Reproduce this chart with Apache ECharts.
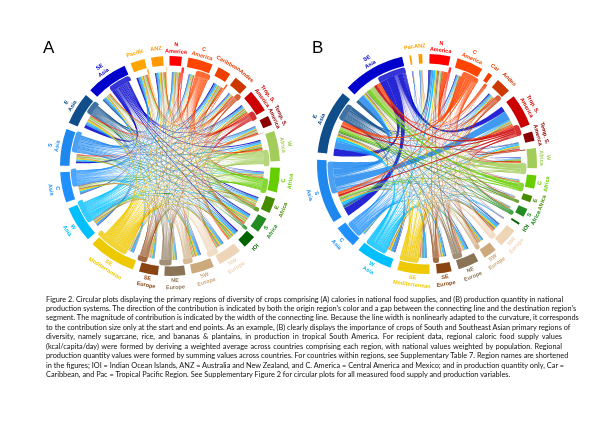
<!DOCTYPE html>
<html>
<head>
<meta charset="utf-8">
<title>Figure 2</title>
<script src="https://cdn.jsdelivr.net/npm/echarts@6/dist/echarts.min.js"></script>
<style>
  html, body { margin: 0; padding: 0; background: #fff; }
  #chart { position: absolute; left: 0; top: 0; width: 596px; height: 432px; }
  #caption { position: absolute; left: 46px; top: 294.5px; width: 516px; font: 7.35px/9.43px Lato, sans-serif; color: #111; }
  #caption div { white-space: nowrap; text-align: justify; text-align-last: justify; }
  #caption div:last-child { text-align-last: left; }
</style>
</head>
<body>
<div id="chart"></div>
<div id="caption"></div>
<script>
const regionColors = ['#FFA500', '#FF9A00', '#FF0000', '#FF4500', '#EE4000', '#CD3700', '#CC0000', '#8B0000',
  '#A2CD5A', '#66CD00', '#458B00', '#228B22', '#006400', '#EED5B7', '#CDAA7D', '#8B7355', '#8B4513', '#EEC900',
  '#00BFFF', '#1E90FF', '#1E88EE', '#104E8B', '#0000CD'];

const labelsA = ['Pacific', 'ANZ', 'N\nAmerica', 'C\nAmerica', 'Caribbean', 'Andes', 'Trop. S.\nAmerica', 'Temp. S.\nAmerica',
  'W\nAfrica', 'C\nAfrica', 'E\nAfrica', 'S\nAfrica', 'IOI', 'NW\nEurope', 'SW\nEurope', 'NE\nEurope', 'SE\nEurope',
  'SE\nMediterranean', 'W\nAsia', 'C\nAsia', 'S\nAsia', 'E\nAsia', 'SE\nAsia'];
const labelsB = ['Pac', 'ANZ', 'N\nAmerica', 'C\nAmerica', 'Car', 'Andes', 'Trop. S.\nAmerica', 'Temp. S.\nAmerica',
  'W\nAfrica', 'C\nAfrica', 'E\nAfrica', 'S\nAfrica', 'IOI', 'NW\nEurope', 'SW\nEurope', 'NE\nEurope', 'SE\nEurope',
  'SE\nMediterranean', 'W\nAsia', 'C\nAsia', 'S\nAsia', 'E\nAsia', 'SE\nAsia'];

// arc for each region, tenths of a degree
const inA = [66, 60, 50, 40, 60, 40, 65, 50, 60, 40, 55, 60, 70, 55, 60, 35, 40, 40, 45, 50, 65, 85, 80];
const outA = [10, 3, 15, 91, 10, 35, 55, 0, 100, 90, 25, 20, 0, 70, 60, 75, 60, 210, 145, 110, 130, 85, 140];
const inB = [10, 20, 95, 30, 2, 45, 100, 45, 36, 15, 15, 15, 10, 60, 40, 50, 40, 50, 50, 15, 140, 230, 150];
const outB = [0, 0, 15, 110, 22, 35, 70, 5, 70, 55, 20, 30, 0, 43, 30, 60, 38, 120, 140, 105, 200, 110, 180];

// origin row -> destination column, same region order as the labels
const flowsA = [
  [0, 1, 0, 0, 1, 0, 1, 0, 1, 0, 0, 1, 1, 0, 0, 0, 0, 0, 0, 0, 0, 1, 1],
  [1, 0, 0, 0, 0, 0, 0, 0, 0, 0, 0, 0, 1, 0, 0, 0, 0, 0, 0, 0, 0, 0, 1],
  [1, 1, 0, 1, 1, 1, 1, 1, 1, 0, 0, 1, 0, 1, 0, 0, 0, 0, 0, 0, 1, 1, 1],
  [5, 5, 6, 0, 7, 4, 6, 4, 6, 3, 4, 5, 5, 2, 3, 1, 2, 2, 2, 2, 3, 4, 4],
  [1, 0, 1, 1, 0, 1, 1, 0, 1, 0, 0, 1, 1, 0, 0, 0, 0, 0, 0, 0, 0, 1, 0],
  [2, 2, 3, 2, 3, 0, 4, 3, 2, 1, 1, 1, 1, 1, 0, 0, 0, 0, 0, 1, 1, 1, 1],
  [3, 2, 3, 3, 4, 3, 0, 4, 4, 2, 2, 3, 3, 1, 1, 1, 1, 0, 1, 1, 2, 2, 2],
  [0, 0, 0, 0, 0, 0, 1, 0, 0, 0, 0, 0, 0, 0, 0, 0, 0, 0, 0, 0, 0, 0, 0],
  [4, 3, 4, 3, 4, 2, 5, 3, 0, 7, 6, 7, 5, 3, 3, 2, 2, 3, 3, 3, 4, 6, 5],
  [4, 4, 3, 3, 4, 3, 5, 3, 7, 0, 5, 7, 6, 3, 3, 1, 2, 2, 2, 2, 3, 3, 3],
  [1, 1, 1, 0, 1, 0, 1, 1, 2, 1, 0, 2, 2, 1, 1, 0, 0, 1, 1, 1, 1, 2, 1],
  [1, 1, 1, 0, 1, 0, 1, 0, 1, 1, 1, 0, 2, 1, 1, 0, 0, 0, 1, 1, 1, 1, 1],
  [0, 0, 0, 0, 0, 0, 0, 0, 0, 0, 0, 0, 0, 0, 0, 0, 0, 0, 0, 0, 0, 0, 0],
  [3, 4, 3, 1, 2, 2, 3, 3, 2, 1, 2, 3, 3, 0, 5, 4, 3, 3, 2, 3, 2, 3, 3],
  [3, 3, 3, 2, 2, 2, 3, 3, 2, 1, 2, 3, 3, 4, 0, 1, 2, 2, 2, 2, 2, 3, 2],
  [3, 4, 4, 1, 3, 1, 3, 4, 2, 1, 2, 4, 4, 5, 4, 0, 4, 2, 3, 4, 2, 3, 2],
  [3, 3, 3, 1, 3, 1, 3, 3, 2, 1, 2, 3, 3, 3, 3, 3, 0, 3, 3, 3, 1, 2, 1],
  [9, 9, 6, 4, 7, 4, 7, 7, 8, 4, 7, 8, 10, 10, 12, 8, 9, 0, 9, 11, 9, 12, 8],
  [6, 7, 5, 3, 6, 3, 5, 5, 6, 3, 6, 7, 7, 6, 6, 5, 6, 7, 0, 8, 6, 7, 5],
  [5, 5, 4, 3, 4, 2, 4, 4, 4, 2, 4, 5, 6, 5, 5, 4, 4, 5, 7, 0, 5, 6, 6],
  [7, 5, 3, 3, 7, 3, 5, 3, 7, 5, 6, 6, 9, 3, 4, 1, 2, 3, 5, 6, 0, 10, 10],
  [4, 4, 2, 2, 3, 2, 3, 3, 3, 2, 3, 3, 4, 4, 4, 3, 2, 2, 3, 4, 5, 0, 9],
  [11, 6, 3, 3, 8, 4, 7, 2, 8, 5, 7, 5, 9, 2, 3, 1, 1, 2, 3, 3, 9, 21, 0]
];
const flowsB = [
  [0, 0, 0, 0, 0, 0, 0, 0, 0, 0, 0, 0, 0, 0, 0, 0, 0, 0, 0, 0, 0, 0, 0],
  [0, 0, 0, 0, 0, 0, 0, 0, 0, 0, 0, 0, 0, 0, 0, 0, 0, 0, 0, 0, 0, 0, 0],
  [0, 0, 0, 1, 0, 0, 1, 1, 0, 0, 0, 0, 0, 1, 1, 2, 1, 1, 1, 0, 1, 3, 1],
  [1, 2, 30, 0, 0, 3, 8, 3, 5, 1, 1, 1, 1, 3, 2, 2, 2, 3, 1, 0, 10, 18, 13],
  [0, 0, 1, 1, 0, 1, 2, 0, 1, 0, 0, 0, 0, 0, 0, 0, 0, 0, 0, 0, 3, 5, 8],
  [0, 0, 4, 2, 0, 0, 5, 2, 2, 1, 1, 1, 0, 2, 2, 1, 1, 1, 0, 0, 3, 3, 4],
  [0, 0, 3, 4, 0, 3, 0, 4, 5, 3, 2, 2, 1, 0, 1, 0, 0, 1, 0, 0, 12, 10, 19],
  [0, 0, 1, 0, 0, 0, 1, 0, 0, 0, 0, 0, 0, 0, 0, 0, 0, 0, 0, 0, 1, 1, 1],
  [0, 0, 2, 1, 0, 1, 2, 1, 0, 2, 1, 2, 0, 1, 1, 1, 1, 1, 1, 0, 7, 15, 30],
  [0, 0, 2, 1, 0, 0, 2, 0, 5, 0, 1, 1, 0, 1, 0, 0, 0, 1, 0, 0, 7, 12, 22],
  [0, 0, 1, 1, 0, 0, 1, 0, 1, 1, 0, 1, 0, 0, 0, 0, 0, 0, 0, 0, 3, 6, 5],
  [0, 0, 2, 1, 0, 1, 2, 1, 2, 1, 1, 0, 0, 1, 1, 1, 1, 1, 0, 0, 4, 7, 3],
  [0, 0, 0, 0, 0, 0, 0, 0, 0, 0, 0, 0, 0, 0, 0, 0, 0, 0, 0, 0, 0, 0, 0],
  [0, 1, 6, 0, 0, 1, 2, 3, 0, 0, 0, 0, 0, 0, 3, 8, 6, 3, 2, 1, 2, 3, 2],
  [0, 1, 4, 0, 0, 1, 1, 2, 1, 0, 0, 0, 0, 3, 0, 3, 4, 2, 1, 0, 1, 3, 3],
  [0, 2, 9, 1, 0, 2, 3, 4, 1, 0, 0, 0, 1, 8, 4, 0, 5, 2, 3, 1, 2, 6, 6],
  [0, 1, 5, 1, 0, 1, 2, 3, 0, 0, 0, 0, 0, 3, 3, 3, 0, 3, 2, 0, 2, 5, 4],
  [1, 3, 10, 3, 0, 6, 6, 8, 3, 1, 1, 1, 0, 10, 8, 5, 8, 0, 12, 3, 10, 13, 8],
  [1, 3, 14, 4, 0, 5, 6, 8, 3, 1, 1, 1, 1, 10, 6, 10, 8, 15, 0, 5, 15, 18, 5],
  [1, 2, 10, 3, 0, 4, 4, 5, 2, 1, 1, 1, 1, 8, 4, 6, 5, 8, 14, 0, 10, 12, 3],
  [2, 1, 6, 4, 0, 6, 60, 2, 4, 2, 2, 2, 2, 4, 2, 3, 2, 2, 6, 2, 0, 45, 40],
  [1, 2, 12, 2, 0, 5, 3, 4, 1, 1, 1, 1, 1, 8, 4, 7, 5, 3, 6, 2, 18, 0, 22],
  [3, 2, 6, 5, 0, 6, 35, 2, 3, 1, 1, 1, 2, 2, 1, 1, 1, 1, 3, 1, 55, 47, 0]
];

const captionLines = [
  'Figure 2. Circular plots displaying the primary regions of diversity of crops comprising (A) calories in national food supplies, and (B) production quantity in national',
  'production systems. The direction of the contribution is indicated by both the origin region\u2019s color and a gap between the connecting line and the destination region\u2019s',
  'segment. The magnitude of contribution is indicated by the width of the connecting line. Because the line width is nonlinearly adapted to the curvature, it corresponds',
  'to the contribution size only at the start and end points. As an example, (B) clearly displays the importance of crops of South and Southeast Asian primary regions of',
  'diversity, namely sugarcane, rice, and bananas & plantains, in production in tropical South America. For recipient data, regional caloric food supply values',
  '(kcal/capita/day) were formed by deriving a weighted average across countries comprising each region, with national values weighted by population. Regional',
  'production quantity values were formed by summing values across countries. For countries within regions, see Supplementary Table 7. Region names are shortened',
  'in the figures; IOI = Indian Ocean Islands, ANZ = Australia and New Zealand, and C. America = Central America and Mexico; and in production quantity only, Car =',
  'Caribbean, and Pac = Tropical Pacific Region. See Supplementary Figure 2 for circular plots for all measured food supply and production variables.'
];

const clear = 'rgba(0,0,0,0)';

// each region is an "in" node (no colour, leaves the gap) and an "out" node, then a blank spacer
const buildNodes = (inArc, outArc, gap) => {
  const nodes = [];
  regionColors.forEach((color, i) => {
    nodes.push({ name: 'in' + i, value: inArc[i], itemStyle: { color: clear } });
    nodes.push({ name: 'out' + i, value: outArc[i], itemStyle: { color: color, opacity: 0.8 } });
    nodes.push({ name: 'gap' + i, value: gap, itemStyle: { color: clear } });
  });
  return nodes;
};

const buildLinks = (flows) => {
  const n = flows.length;
  const links = [];
  for (let i = n - 1; i >= 0; i--) {
    for (let k = 1; k < n; k++) {
      const j = (i - k + n) % n;
      if (flows[i][j] > 0) {
        links.push({ source: 'out' + i, target: 'in' + j, value: flows[i][j] });
      }
    }
  }
  return links;
};

const buildRing = (labels, inArc, outArc, gap, withLabel) => {
  const ring = [];
  regionColors.forEach((color, i) => {
    ring.push({
      name: labels[i],
      value: inArc[i] + outArc[i],
      itemStyle: { color: withLabel ? clear : color },
      label: { show: withLabel, color: color }
    });
    ring.push({ name: 'gap' + i, value: gap, itemStyle: { color: clear }, label: { show: false } });
  });
  return ring;
};

const panel = (cx, cy, startAngle, labels, inArc, outArc, flows, gap) => [
  {
    type: 'chord',
    center: [cx, cy],
    radius: [94, 99.5],
    startAngle: startAngle,
    clockwise: true,
    padAngle: 0,
    minAngle: 0,
    silent: true,
    label: { show: false },
    lineStyle: { color: 'source', opacity: 0.85 },
    data: buildNodes(inArc, outArc, gap),
    links: buildLinks(flows)
  },
  {
    type: 'pie',
    center: [cx, cy],
    radius: [100.5, 110],
    startAngle: startAngle,
    clockwise: true,
    silent: true,
    label: { show: false },
    labelLine: { show: false },
    data: buildRing(labels, inArc, outArc, gap, false)
  },
  {
    type: 'pie',
    center: [cx, cy],
    radius: [110, 120],
    startAngle: startAngle,
    clockwise: true,
    silent: true,
    avoidLabelOverlap: false,
    labelLine: { show: false },
    labelLayout: { hideOverlap: false },
    label: {
      position: 'inside',
      rotate: 'tangential',
      formatter: '{b}',
      fontFamily: 'Liberation Sans',
      fontSize: 5.5,
      fontWeight: 'bold',
      lineHeight: 7
    },
    data: buildRing(labels, inArc, outArc, gap, true)
  }
];

document.getElementById('caption').innerHTML = captionLines
  .map(line => '<div>' + line.replace('&', '&amp;') + '</div>').join('');

const chart = echarts.init(document.getElementById('chart'));
chart.setOption({
  animation: false,
  backgroundColor: '#fff',
  title: [
    { text: 'A', left: 38, top: 35, textStyle: { fontFamily: 'Liberation Sans', fontSize: 17, fontWeight: 'normal', color: '#000' } },
    { text: 'B', left: 307, top: 35, textStyle: { fontFamily: 'Liberation Sans', fontSize: 17, fontWeight: 'normal', color: '#000' } }
  ],
  series: [
    ...panel(170, 166, 111, labelsA, inA, outA, flowsA, 34),
    ...panel(427, 164, 99.3, labelsB, inB, outB, flowsB, 38)
  ]
});
</script>
</body>
</html>
